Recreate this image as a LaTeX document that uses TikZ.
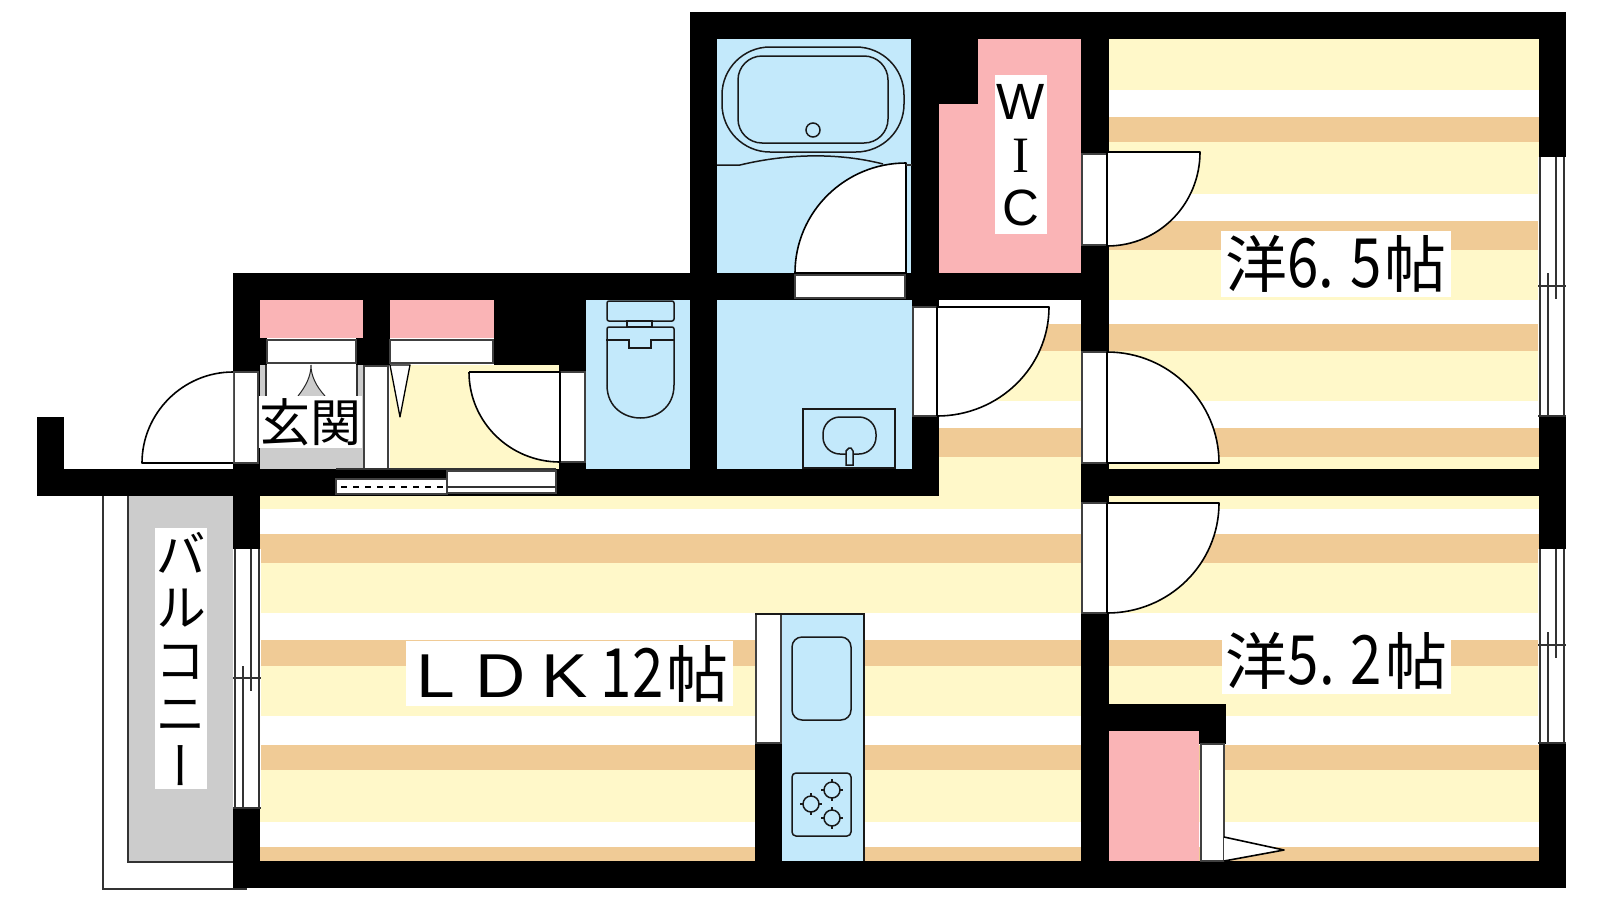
\documentclass[tikz,border=0pt]{standalone}
\usepackage{fontspec}
\usepackage{graphicx}
\setmainfont{Noto Sans CJK JP}
\newfontfamily\latinsans{Liberation Sans}
\newfontfamily\latinserif{Liberation Serif}
\usetikzlibrary{calc, positioning}
\definecolor{floorpink}{HTML}{FAB4B6}
\definecolor{floorblue}{HTML}{C3E9FB}
\definecolor{flooryellow}{HTML}{FFF8C9}
\definecolor{floortan}{HTML}{F0CB96}
\definecolor{floorgrey}{HTML}{CCCCCC}
\newcommand{\narrownum}[1]{\scalebox{.83}[1]{\fontsize{68}{68}\selectfont #1}}
\newcommand{\wideletter}[1]{\scalebox{1.12}[1]{\latinsans #1}}
\tikzstyle{wall} = [fill=black, draw=none]
\tikzstyle{opening} = [fill=white, draw=black!75, line width=1.3pt]
\tikzstyle{doorleaf} = [fill=white, draw=black, line width=1.6pt, line join=round]
\tikzstyle{fixture} = [draw=black!90, line width=1.5pt]
\tikzstyle{sashline} = [draw=black!80, line width=1.4pt]
\tikzstyle{roomlabel} = [fill=white, inner sep=0pt, text=black, align=center]
\tikzstyle{biglabel} = [roomlabel, font=\fontsize{62}{62}\selectfont]
\tikzstyle{smalllabel} = [roomlabel, font=\fontsize{51}{53}\selectfont]

\begin{document}
\begin{tikzpicture}[x=1pt, y=-1pt]
	\useasboundingbox (0,0) rectangle (1600,900);
	\fill[white] (0,0) rectangle (1600,900);
	% floors
	\fill[flooryellow] (1109,39) rectangle (1539,469);
	\fill[flooryellow] (939,300) rectangle (1082,496);
	\fill[flooryellow] (260,496) rectangle (1082,861);
	\fill[flooryellow] (1109,496) rectangle (1539,861);
	\fill[flooryellow] (390,365) rectangle (559,469);
	\begin{scope}
		\clip (1109,39) rectangle (1539,469) (939,300) rectangle (1082,496)
		(260,496) rectangle (1082,861) (1109,496) rectangle (1539,861);
		\foreach \ya/\yb in {90/117,194/221,300/324,401/428,509/534,613/640,716/745,822/847}
			\fill[white] (200,\ya) rectangle (1600,\yb);
		\foreach \ya/\yb in {117/142,221/250,324/351,428/457,534/563,640/666,745/770,847/861}
			\fill[floortan] (200,\ya) rectangle (1600,\yb);
	\end{scope}
	\fill[floorblue] (717,39) rectangle (912,273);
	\fill[floorblue] (717,300) rectangle (912,469);
	\fill[floorblue] (586,300) rectangle (690,469);
	\fill[floorblue] (782,614) rectangle (864,861);
	\fill[floorpink] (939,104) -- (978,104) -- (978,39) -- (1081,39) -- (1081,273) -- (939,273) -- cycle;
	\fill[floorpink] (260,300) rectangle (363,338);
	\fill[floorpink] (390,300) rectangle (494,338);
	\fill[floorpink] (1109,731) rectangle (1199,861);
	\fill[floorgrey] (128,496) rectangle (233,862);
	\fill[floorgrey] (260,365) rectangle (363,469);
	% walls
	\foreach \xa/\ya/\xb/\yb in {690/12/1566/39, 1539/12/1566/888, 233/861/1566/888, 233/273/260/888,
		233/273/1082/300, 690/12/717/300, 911/12/939/300, 939/12/978/104, 1081/12/1109/861,
		1081/469/1566/496, 690/300/717/469, 912/300/939/496, 37/469/939/496, 37/417/64/496,
		494/300/586/365, 559/365/586/469, 363/300/390/365, 260/338/267/365, 356/338/363/365,
		755/743/782/861, 1109/704/1226/731, 1199/704/1226/744}
		\fill[wall] (\xa,\ya) rectangle (\xb,\yb);
	% balcony
	\draw[sashline] (128,496) -- (128,862) -- (233,862);
	\draw[sashline] (103,496) -- (103,889) -- (247,889);
	% closets and entry
	\draw[opening] (267,340) rectangle (356,363);
	\draw[opening] (390,340) rectangle (493,363);
	\fill[white] (266,365) rectangle (357,396);
	\draw[sashline] (266,365) -- (266,396) (357,365) -- (357,396);
	\fill[floorgrey, draw=black!85, line width=1pt] (298,396) .. controls (306,386) and (311,376) .. (311,365) .. controls (311,376) and (316,386) .. (325,396);
	\draw[opening] (364,366) rectangle (388,469);
	\draw[doorleaf, line width=1.3pt] (390,365) -- (410,365) -- (400,417) -- cycle;
	% sliding windows in the corridor wall
	\draw[opening] (336,479) rectangle (447,494);
	\draw[black, line width=1.5pt, dash pattern=on 6pt off 6pt] (341,487) -- (447,487);
	\draw[opening] (447,471) rectangle (556,493);
	\draw[sashline] (447,487) -- (556,487) (336,469) -- (556,469);
	% door openings
	\foreach \xa/\ya/\xb/\yb in {234/372/258/463, 560/372/585/462, 795/275/905/298, 913/307/937/416,
		1082/154/1107/245, 1082/352/1107/463, 1082/503/1107/613, 756/614/781/743, 1201/744/1224/861}
		\draw[opening] (\xa,\ya) rectangle (\xb,\yb);
	% door leaves
	\draw[doorleaf] (233,372) .. controls (183,372) and (142,413) .. (142,463) -- (233,463);
	\draw[doorleaf] (469,372) -- (560,372) -- (560,462) .. controls (510,462) and (469,422) .. (469,372);
	\draw[doorleaf] (906,273) -- (906,163) .. controls (845,163) and (795,212) .. (795,273) -- cycle;
	\draw[doorleaf] (937,416) -- (937,307) -- (1049,307) .. controls (1049,367) and (999,416) .. (937,416);
	\draw[doorleaf] (1107,246) -- (1107,152) -- (1200,152) .. controls (1200,204) and (1159,246) .. (1107,246);
	\draw[doorleaf] (1107,352) .. controls (1169,352) and (1219,402) .. (1219,463) -- (1107,463) -- cycle;
	\draw[doorleaf] (1107,613) -- (1107,503) -- (1219,503) .. controls (1219,564) and (1169,613) .. (1107,613);
	\draw[doorleaf] (1224,837) -- (1284,850) -- (1224,861);
	% bath
	\draw[fixture, rounded corners=48] (722,47) rectangle (904,152);
	\draw[fixture, rounded corners=24] (738,56) rectangle (888,143);
	\draw[fixture] (813,130) circle (7);
	\draw[fixture] (717,165) -- (740,165) .. controls (790,153) and (840,153) .. (883,164);
	\draw[sashline] (906,165) -- (912,165);
	% toilet
	\draw[fixture, rounded corners=2] (607,301) rectangle (674,321);
	\draw[fixture] (627,321) rectangle (652,327);
	\draw[fixture, rounded corners=2] (607,385) -- (607,327) -- (674,327) -- (674,385);
	\draw[fixture] (607,385) .. controls (607,408) and (625,418) .. (640.5,418) .. controls (656,418) and (674,408) .. (674,385);
	\draw[fixture] (606,340) -- (629,340) -- (629,348) -- (651,348) -- (651,340) -- (675,340);
	% wash basin
	\draw[fixture] (803,409) rectangle (895,468);
	\draw[fixture, rounded corners=17] (823,417) rectangle (876,454);
	\draw[fixture, fill=floorblue] (846,465) -- (846,451) -- (849,448) -- (851,448) -- (853,451) -- (853,465) -- cycle;
	% kitchen
	\draw[fixture] (755,614) -- (864,614) -- (864,861);
	\draw[fixture, rounded corners=10] (792,637) rectangle (851,720);
	\draw[fixture, rounded corners=4] (792,773) rectangle (851,836);
	\foreach \cx/\cy in {811/804,832/790,832/818} {
		\draw[fixture] (\cx,\cy) circle (8);
		\draw[fixture] (\cx-11,\cy) -- (\cx-7,\cy) (\cx+7,\cy) -- (\cx+11,\cy)
			(\cx,\cy-11) -- (\cx,\cy-7) (\cx,\cy+7) -- (\cx,\cy+11);
	}
	% windows
	\foreach \xa/\ya/\yb/\yc/\yd in {233/549/808/678/666, 1538/157/416/286/273, 1538/549/743/645/632} {
		\fill[white] (\xa,\ya) rectangle (\xa+28,\yb);
		\draw[sashline] (\xa+2,\ya) -- (\xa+2,\yb) (\xa+26,\ya) -- (\xa+26,\yb) (\xa,\yb) -- (\xa+28,\yb);
		\draw[sashline] (\xa+10,\yd) -- (\xa+10,\yb) (\xa+18,\ya) -- (\xa+18,\yc+13) (\xa,\yc) -- (\xa+28,\yc);
	}
	% labels
	\node (ldk_label) [biglabel, minimum width=327, minimum height=65] at (569.5,673.5)
		{\hspace*{6.5pt}\wideletter{L}\kern20pt\wideletter{D}\kern16pt\wideletter{K}\kern13pt\narrownum{12}\kern3pt 帖};
	\node (western_a_label) [biglabel, minimum width=230, minimum height=66] at (1336,264)
		{洋\narrownum{6.}\kern16pt\narrownum{5}\kern3pt 帖};
	\node (western_b_label) [biglabel, minimum width=229, minimum height=66] at (1336.5,661)
		{洋\narrownum{5.}\kern16pt\narrownum{2}\kern3pt 帖};
	\node (entry_label) [smalllabel, minimum width=103, minimum height=52] at (310.5,422) {玄関};
	\node (wic_label) [smalllabel, text width=52, minimum height=157] at (1021,155)
		{{\latinsans W}\\{\latinserif I}\\{\latinsans C}};
	\fill[white] (995,75) rectangle (1047,80);
	\node (balcony_label) [smalllabel, text width=52, minimum height=261] at (181,658.5)
		{\addfontfeature{RawFeature=+vert}バ\\ル\\コ\\ニ\\ー};
\end{tikzpicture}
\end{document}
